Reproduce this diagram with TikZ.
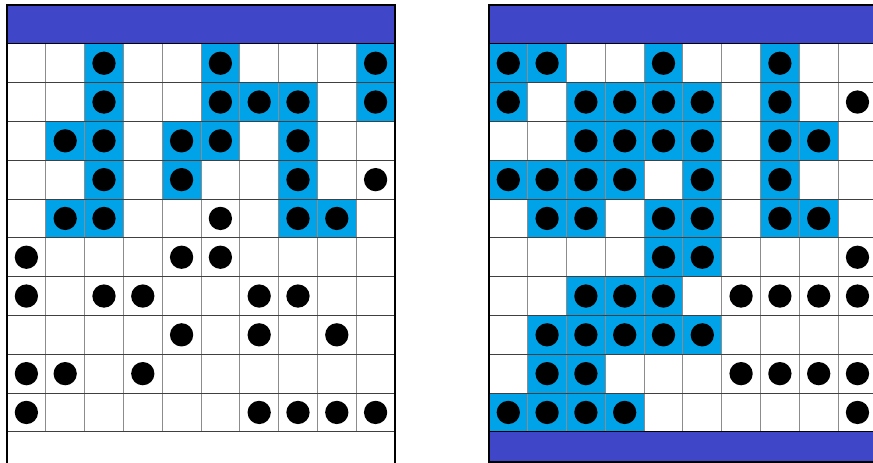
\documentclass[tikz,border=0pt]{standalone}
\usetikzlibrary{positioning}
\definecolor{barblue}{RGB}{64,70,200}
\definecolor{cellblue}{RGB}{0,162,232}
\tikzset{
    occupied/.style={fill=cellblue},
    particle/.style={fill=black},
    rowline/.style={black!75, line width=0.6pt},
    colline/.style={black!45, line width=0.6pt},
    frame/.style={black, line width=1.4pt},
    bar/.style={fill=barblue, draw=black, line width=0.6pt},
}

\begin{document}
\begin{tikzpicture}
    \useasboundingbox (-0.18,-0.80) rectangle (22.32,11.13);

    % Left lattice
    \begin{scope}
        \foreach \r/\cols in {1/{3,6,10}, 2/{3,6,7,8,10}, 3/{2,3,5,6,8},
                              4/{3,5,8}, 5/{2,3,8,9}}
            \foreach \c in \cols \fill[occupied] (\c-1,10-\r) rectangle ++(1,1);

        % Grid
        \foreach \c in {1,...,9} \draw[colline] (\c,0) -- (\c,10);
        \foreach \r in {0,...,9} \draw[rowline] (0,\r) -- (10,\r);

        % Particles
        \foreach \r/\cols in {1/{3,6,10}, 2/{3,6,7,8,10}, 3/{2,3,5,6,8},
                              4/{3,5,8,10}, 5/{2,3,6,8,9}, 6/{1,5,6},
                              7/{1,3,4,7,8}, 8/{5,7,9}, 9/{1,2,4},
                              10/{1,7,8,9,10}}
            \foreach \c in \cols \fill[particle] (\c-0.5,10.5-\r) circle (0.3);

        % Reservoir and walls
        \draw[bar] (0,10) rectangle (10,11);
        \draw[frame] (0,-1) -- (0,11) -- (10,11) -- (10,-1);
    \end{scope}

    % Right lattice
    \begin{scope}[xshift=12.42cm]
        \foreach \r/\cols in {1/{1,2,5,8}, 2/{1,3,4,5,6,8}, 3/{3,4,5,6,8,9},
                              4/{1,2,3,4,6,8}, 5/{2,3,5,6,8,9}, 6/{5,6},
                              7/{3,4,5}, 8/{2,3,4,5,6}, 9/{2,3}, 10/{1,2,3,4}}
            \foreach \c in \cols \fill[occupied] (\c-1,10-\r) rectangle ++(1,1);

        % Grid
        \foreach \c in {1,...,9} \draw[colline] (\c,0) -- (\c,10);
        \foreach \r in {1,...,9} \draw[rowline] (0,\r) -- (10,\r);

        % Particles
        \foreach \r/\cols in {1/{1,2,5,8}, 2/{1,3,4,5,6,8,10}, 3/{3,4,5,6,8,9},
                              4/{1,2,3,4,6,8}, 5/{2,3,5,6,8,9}, 6/{5,6,10},
                              7/{3,4,5,7,8,9,10}, 8/{2,3,4,5,6},
                              9/{2,3,7,8,9,10}, 10/{1,2,3,4,10}}
            \foreach \c in \cols \fill[particle] (\c-0.5,10.5-\r) circle (0.3);

        % Reservoirs and walls
        \draw[bar] (0,10) rectangle (10,11);
        \draw[bar] (0,-0.78) rectangle (10,0);
        \draw[frame] (10,11) -- (0,11) -- (0,-0.78) -- (10,-0.78);
    \end{scope}
\end{tikzpicture}
\end{document}
